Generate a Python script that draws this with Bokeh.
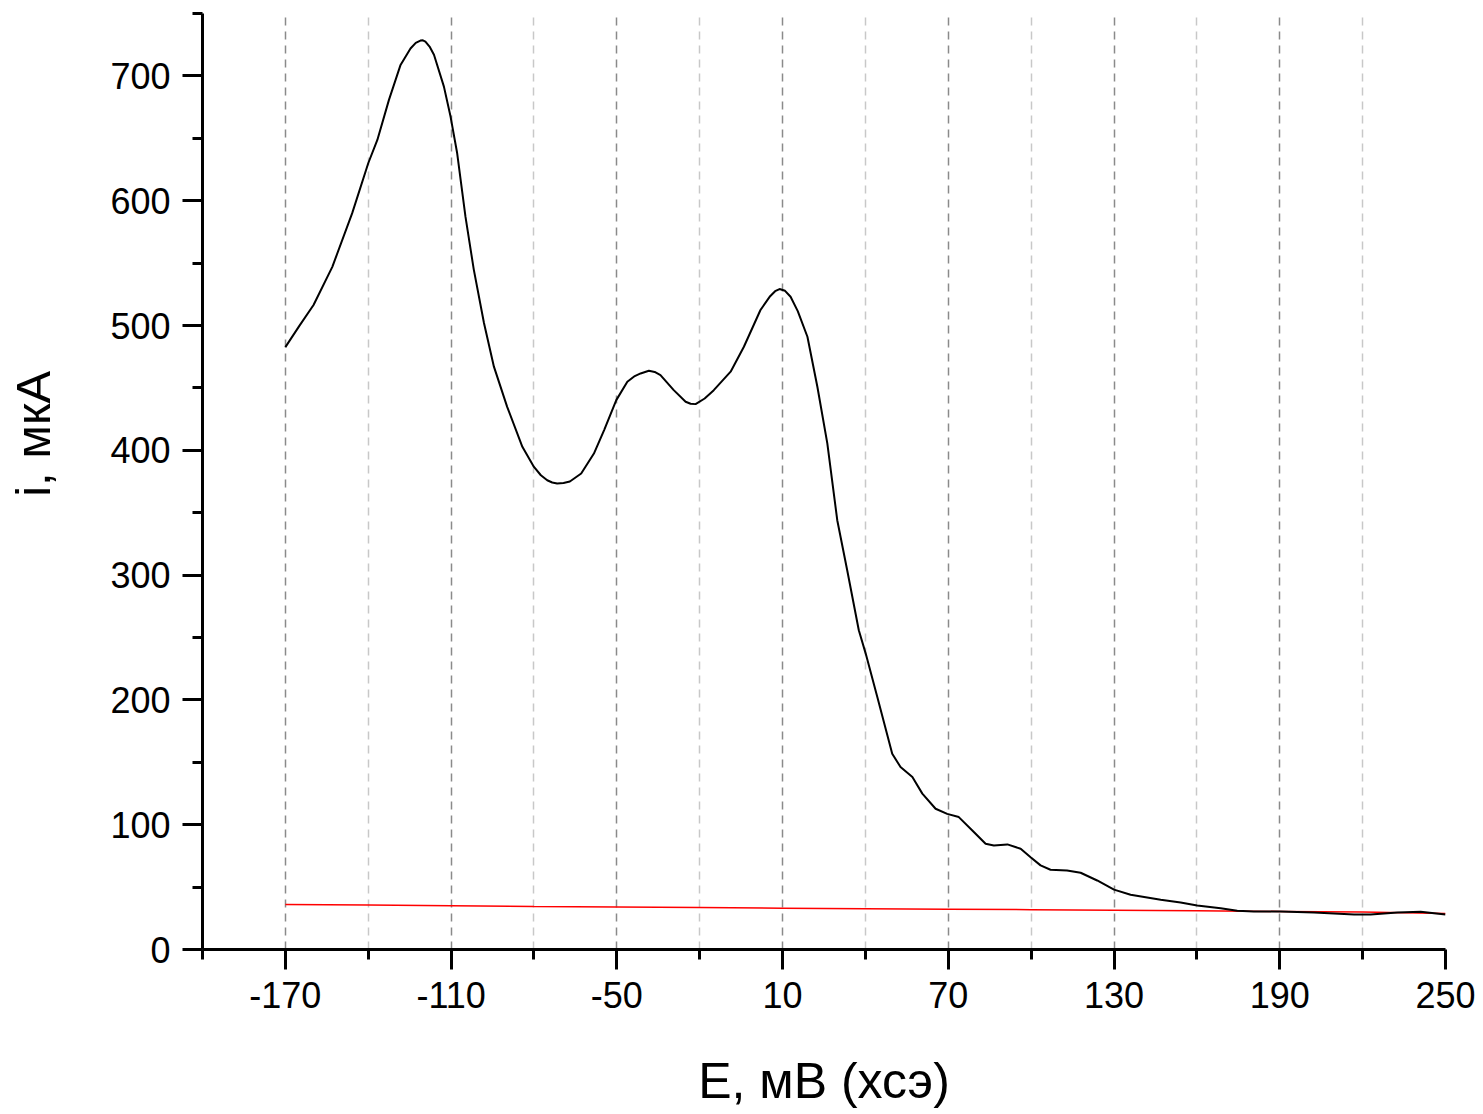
from bokeh.plotting import figure
from bokeh.models import FixedTicker, Range1d
from bokeh.embed import file_html
from bokeh.resources import INLINE

# Anodic polarisation curve, i (мкА) vs E (мВ, хсэ)
e_curve = [-170, -165.0, -159.8, -153.0, -145.8, -140.0, -136.7, -132.5, -128.3, -124.7,
           -122.8, -121.1, -120.2, -119.3, -117.8, -116.2, -112.6, -110.2, -107.8, -104.8,
           -101.8, -98.1, -94.5, -89.7, -84.2, -80.0, -77.5, -75.2, -73.4, -71.6,
           -69.3, -67.0, -62.9, -58.3, -54.6, -50.2, -46.2, -43.5, -41.4, -38.4,
           -36.3, -34.2, -29.4, -25.1, -23.3, -21.5, -18.2, -14.9, -8.8, -4.0,
           2.0, 5.5, 7.3, 8.9, 10.9, 12.9, 15.5, 19.0, 22.6, 26.2,
           29.8, 33.4, 37.6, 40.1, 44.3, 49.7, 52.7, 57.0, 60.6, 65.4,
           69.6, 73.8, 78.7, 83.5, 86.5, 91.4, 96.2, 99.8, 103.4, 107.0,
           113.0, 117.9, 123.9, 130.0, 136.0, 146.9, 154.1, 160.1, 168.6, 174.6,
           180.6, 190.3, 202.4, 216.9, 222.9, 232.6, 241.0, 250.0]
i_curve = [482.7, 499.5, 516.4, 547, 590, 630, 648.7, 680.8, 708.8, 722,
           726.5, 728.3, 728.5, 727.5, 723.5, 716.9, 691.4, 667.4, 638, 587.2,
           545, 502, 467, 434.8, 402.8, 386.7, 380.0, 376, 374.2, 373.4,
           373.8, 375, 381.4, 397.4, 416.2, 440.2, 454.9, 459.5, 461.6, 463.7,
           462.8, 460.3, 448.2, 438.9, 437.3, 437, 441.5, 448.2, 463, 483,
           512.4, 523.5, 527.5, 529.2, 527.8, 523, 511.5, 491, 450.9, 405.5,
           344, 303.9, 255.8, 237.1, 202.3, 156.9, 146.2, 138.2, 124.9, 112.8,
           108.7, 106.1, 95.4, 84.8, 83.4, 84.2, 80.7, 74, 67.4, 63.9,
           63.3, 61.5, 55.3, 48.0, 43.9, 39.8, 37.7, 35.3, 33.1, 31.0,
           30.5, 30.5, 29.7, 28.1, 28.1, 29.7, 30.2, 28.1]

# Background (baseline) current
e_base = [-170, -140, -110, -80, -50, -20, 10, 40, 70, 100, 130, 160, 190, 220, 250]
i_base = [36.1, 35.6, 35.0, 34.4, 34.0, 33.6, 33.1, 32.7, 32.3, 31.9, 31.4, 31.0, 30.5, 30.0, 28.8]

x_major = [-170, -110, -50, 10, 70, 130, 190, 250]
x_minor = [-200, -140, -80, -20, 40, 100, 160, 220]
y_major = [0, 100, 200, 300, 400, 500, 600, 700]
y_minor = [50, 150, 250, 350, 450, 550, 650, 750]

FONT = "Liberation Sans"

p = figure(width=1483, height=1114, output_backend="svg", toolbar_location=None,
           x_range=Range1d(-200, 250), y_range=Range1d(0, 750),
           min_border_left=202, min_border_right=38, min_border_top=13,
           min_border_bottom=165)
p.outline_line_color = None
p.background_fill_color = "white"
p.border_fill_color = "white"

for ax, major, minor in ((p.xaxis[0], x_major, x_minor), (p.yaxis[0], y_major, y_minor)):
    ax.ticker = FixedTicker(ticks=major, minor_ticks=minor)
    ax.axis_line_width = 3
    ax.axis_line_color = "black"
    ax.major_tick_line_width = 3
    ax.minor_tick_line_width = 3
    ax.major_tick_line_color = "black"
    ax.minor_tick_line_color = "black"
    ax.major_tick_out = 20
    ax.major_tick_in = 0
    ax.minor_tick_out = 10
    ax.minor_tick_in = 0
    ax.major_label_text_font = FONT
    ax.major_label_text_font_size = "36px"
    ax.major_label_text_color = "black"
    ax.major_label_overrides = {t: str(t) for t in major}
    ax.axis_label_text_font = FONT
    ax.axis_label_text_font_size = "49px"
    ax.axis_label_text_font_style = "normal"
    ax.axis_label_text_color = "black"

p.xaxis.axis_label = "E, мВ (хсэ)"
p.xaxis.axis_label_text_font_size = "50px"
p.xaxis.major_label_standoff = 12
p.xaxis.axis_label_standoff = 42

# leading no-break spaces lift the visible y title a little above the axis middle
p.yaxis.axis_label = "\u00a0" * 7 + "i, мкА"
p.yaxis.major_label_standoff = 12
p.yaxis.axis_label_standoff = 47

# dashed vertical grid: darker at labelled ticks, lighter in between
p.ygrid.visible = False
p.xgrid.ticker = FixedTicker(ticks=x_major[:-1], minor_ticks=x_minor[1:])
p.xgrid.grid_line_color = "#8a8a8a"
p.xgrid.grid_line_width = 1.5
p.xgrid.grid_line_dash = "8 6"
p.xgrid.minor_grid_line_color = "#c8c8c8"
p.xgrid.minor_grid_line_width = 1.5
p.xgrid.minor_grid_line_dash = "8 6"

p.line(e_base, i_base, line_color="#ff0000", line_width=1.5)
p.line(e_curve, i_curve, line_color="black", line_width=2)

open("out.html", "w").write(file_html(p, INLINE))
